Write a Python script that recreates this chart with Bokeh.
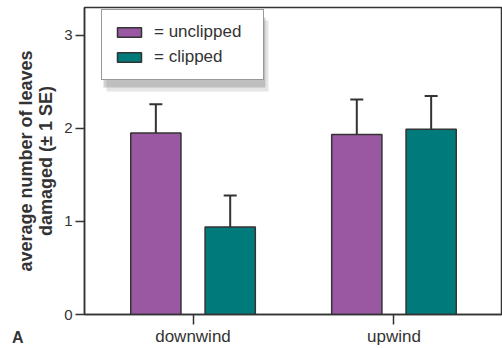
from bokeh.plotting import figure
from bokeh.models import (FactorRange, Range1d, ColumnDataSource, Whisker, TeeHead,
                          Legend, LegendItem, FixedTicker, Label, BoxAnnotation)
from bokeh.transform import dodge
from bokeh.embed import file_html
from bokeh.resources import INLINE

# ---- data ----
categories = ["downwind", "upwind"]
series_names = ["= unclipped", "= clipped"]
unclipped_mean = [1.95, 1.935]
unclipped_se = [0.31, 0.375]
clipped_mean = [0.94, 1.99]
clipped_se = [0.34, 0.36]
y_ticks = [0, 1, 2, 3]

PURPLE = "#9a58a2"
TEAL = "#007a7a"
DARK = "#333333"
FONT = "Liberation Sans"

src = ColumnDataSource(data=dict(
    cat=categories,
    un=unclipped_mean,
    un_hi=[m + s for m, s in zip(unclipped_mean, unclipped_se)],
    cl=clipped_mean,
    cl_hi=[m + s for m, s in zip(clipped_mean, clipped_se)],
))

p = figure(
    width=502, height=348,
    x_range=FactorRange(factors=categories, range_padding=0.04, range_padding_units="absolute"),
    y_range=Range1d(0, 3.3),
    output_backend="svg", toolbar_location=None,
    min_border_left=84, min_border_right=0, min_border_top=7, min_border_bottom=32,
)
p.background_fill_color = "white"
p.border_fill_color = "white"
p.outline_line_color = DARK
p.outline_line_width = 1.5
p.xgrid.visible = False
p.ygrid.visible = False

# error bars
w1 = Whisker(base=dodge("cat", -0.185, range=p.x_range), upper="un_hi", lower="un", source=src,
             line_color=DARK, line_width=2,
             upper_head=TeeHead(size=13, line_color=DARK, line_width=2), lower_head=None)
w2 = Whisker(base=dodge("cat", 0.185, range=p.x_range), upper="cl_hi", lower="cl", source=src,
             line_color=DARK, line_width=2,
             upper_head=TeeHead(size=13, line_color=DARK, line_width=2), lower_head=None)
p.add_layout(w1)
p.add_layout(w2)

r1 = p.vbar(x=dodge("cat", -0.185, range=p.x_range), top="un", width=0.25, source=src,
            fill_color=PURPLE, line_color=DARK, line_width=1.5)
r2 = p.vbar(x=dodge("cat", 0.185, range=p.x_range), top="cl", width=0.25, source=src,
            fill_color=TEAL, line_color=DARK, line_width=1.5)

# axes
for ax in (p.xaxis[0], p.yaxis[0]):
    ax.axis_line_color = DARK
    ax.axis_line_width = 1.5
    ax.major_tick_line_color = DARK
    ax.major_tick_line_width = 1.5
    ax.major_tick_in = 0
    ax.minor_tick_line_color = None
    ax.major_label_text_font = FONT
    ax.major_label_text_color = DARK

p.yaxis.ticker = FixedTicker(ticks=y_ticks)
p.yaxis.major_tick_out = 9
p.yaxis.major_label_text_font_size = "15px"
p.yaxis.major_label_standoff = 3
p.yaxis.axis_label = "average number of leaves\ndamaged (\u00b1 1 SE)"
p.yaxis.axis_label_text_font = FONT
p.yaxis.axis_label_text_font_style = "bold"
p.yaxis.axis_label_text_font_size = "18px"
p.yaxis.axis_label_text_line_height = 1.0
p.yaxis.axis_label_text_color = DARK
p.yaxis.axis_label_standoff = 5

p.xaxis.major_tick_out = 10
p.xaxis.major_label_text_font_size = "17px"
p.xaxis.major_label_standoff = 2

# legend shadow
p.add_layout(BoxAnnotation(left=22, right=184, top=294, bottom=223,
                           left_units="screen", right_units="screen",
                           top_units="screen", bottom_units="screen",
                           fill_color="#888888", fill_alpha=0.22, line_color=None))
p.add_layout(BoxAnnotation(left=19, right=181, top=297, bottom=227,
                           left_units="screen", right_units="screen",
                           top_units="screen", bottom_units="screen",
                           fill_color="#777777", fill_alpha=0.35, line_color=None))

legend = Legend(items=[LegendItem(label=series_names[0], renderers=[r1]),
                       LegendItem(label=series_names[1], renderers=[r2])],
                location=(17, 234), margin=0, padding=12, spacing=5,
                glyph_width=30, glyph_height=12, label_standoff=10,
                label_width=97, label_height=18,
                label_text_font=FONT, label_text_font_size="17px", label_text_color=DARK,
                border_line_color=DARK, border_line_width=1.5,
                background_fill_color="white", background_fill_alpha=1.0)
p.add_layout(legend, "center")

# panel letter, placed in the left side panel so it is not clipped to the frame
p.add_layout(Label(x=10.5, y=-22.5, x_units="screen", y_units="screen", text="A",
                   text_font=FONT, text_font_style="bold", text_font_size="16px",
                   text_color=DARK, text_baseline="middle"), "left")

open("out.html", "w").write(file_html(p, INLINE))
